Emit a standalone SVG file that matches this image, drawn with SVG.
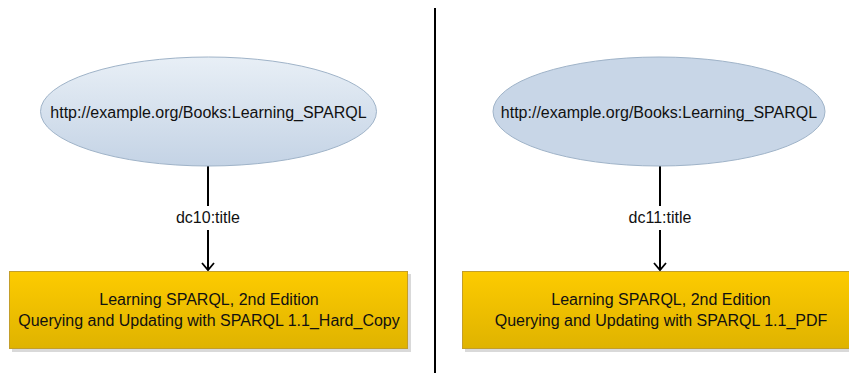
<svg xmlns="http://www.w3.org/2000/svg" width="849" height="373" viewBox="0 0 849 373">
<defs>
<linearGradient id="gEll" x1="0" y1="0" x2="0" y2="1">
<stop offset="0" stop-color="#E8EFF6"/>
<stop offset="1" stop-color="#C4D3E5"/>
</linearGradient>
<linearGradient id="gBox" x1="0" y1="0" x2="0" y2="1">
<stop offset="0" stop-color="#FDCB00"/>
<stop offset="1" stop-color="#DFB300"/>
</linearGradient>
<marker id="arr" markerWidth="12" markerHeight="14" refX="10" refY="7" orient="auto" markerUnits="userSpaceOnUse" viewBox="0 0 12 14">
<path d="M3,1 L10,7 L3,13" fill="none" stroke="#000" stroke-width="1.8"/>
</marker>
</defs>
<style>
text{font-family:"Liberation Sans",Arial,sans-serif;font-size:16px;fill:#111;text-anchor:middle}
.ell{stroke:#9FB3C8;stroke-width:1}
.box{fill:url(#gBox);stroke:#C39E2A;stroke-width:1}
.shadow{fill:#D9D9D9}
.edge{stroke:#000;stroke-width:2;fill:none}
</style>
<rect width="849" height="373" fill="#fff"/>
<line x1="435" y1="8" x2="435" y2="373" stroke="#000" stroke-width="2"/>
<g id="connectors">
<line class="edge" x1="208" y1="166" x2="208" y2="206"/>
<line class="edge" x1="208" y1="230" x2="208" y2="270" marker-end="url(#arr)"/>
<text x="208" y="223">dc10:title</text>
<line class="edge" x1="660" y1="166" x2="660" y2="206"/>
<line class="edge" x1="660" y1="230" x2="660" y2="270" marker-end="url(#arr)"/>
<text x="660" y="223">dc11:title</text>
</g>
<g id="subject1">
<ellipse class="ell" cx="208.5" cy="111.5" rx="168" ry="54.5" fill="url(#gEll)"/>
<text x="208.5" y="118">http://example.org/Books:Learning_SPARQL</text>
</g>
<g id="subject2">
<ellipse class="ell" cx="659" cy="111.5" rx="166" ry="54.5" fill="#C8D6E7"/>
<text x="659" y="118">http://example.org/Books:Learning_SPARQL</text>
</g>
<g id="object1">
<rect class="shadow" x="12" y="274" width="399" height="78"/>
<rect class="box" x="9.5" y="271.5" width="398" height="77"/>
<text x="209" y="305">Learning SPARQL, 2nd Edition</text>
<text x="209" y="326">Querying and Updating with SPARQL 1.1_Hard_Copy</text>
</g>
<g id="object2">
<rect class="shadow" x="465" y="274" width="399" height="78"/>
<rect class="box" x="462.5" y="271.5" width="398" height="77"/>
<text x="661" y="305">Learning SPARQL, 2nd Edition</text>
<text x="661" y="326">Querying and Updating with SPARQL 1.1_PDF</text>
</g>
</svg>
